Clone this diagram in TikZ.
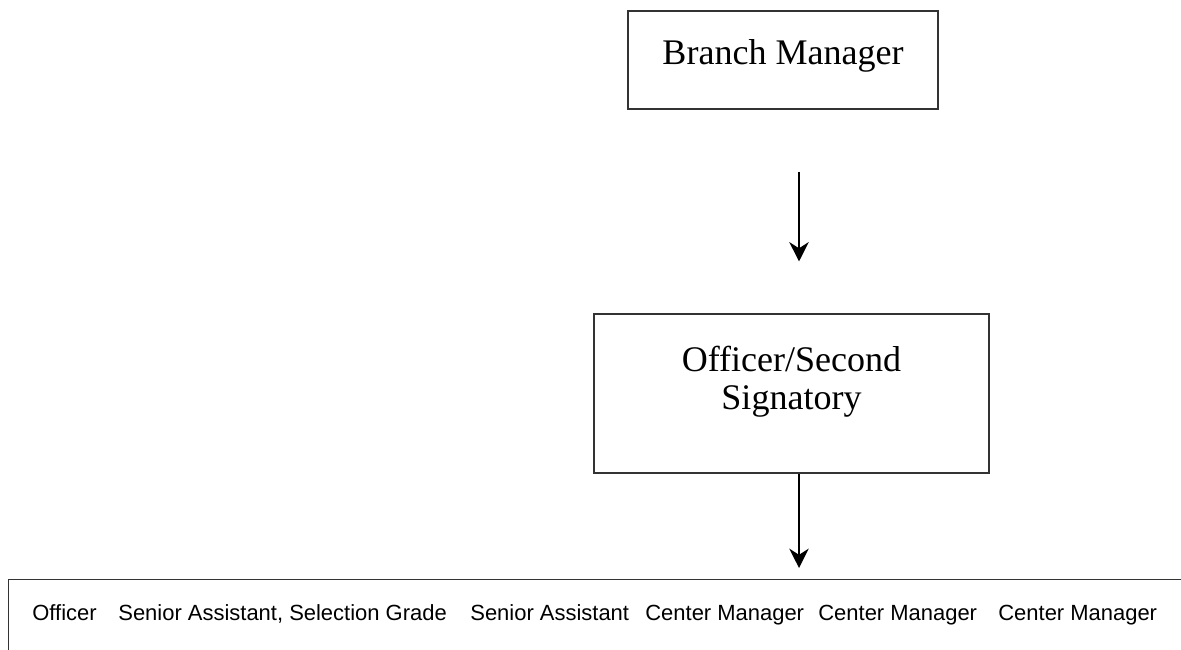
\documentclass[tikz,border=0pt]{standalone}
\usepackage{fontspec}
\setmainfont{Liberation Serif}
\setsansfont{Liberation Sans}
\usetikzlibrary{positioning, arrows, arrows.meta}

\tikzset{
  orgbox/.style={draw=black!80, line width=0.6pt, inner sep=0pt},
  boxtext/.style={font=\fontsize{20.5}{21.5}\selectfont, align=center},
  rolename/.style={anchor=base west, inner sep=0pt, font=\sffamily\fontsize{12.5}{14}\selectfont},
  reportarrow/.style={line width=1.1pt, -{Stealth[length=11pt,width=11pt,inset=3.5pt]}}
}

\begin{document}
\begin{tikzpicture}
  \useasboundingbox (0,0) rectangle (23.62,-13);
  \clip (0,0) rectangle (23.62,-13);

  % top of the chart
  \node[orgbox, minimum width=6.2cm, minimum height=1.96cm,
        label={[boxtext, yshift=0.08cm]center:Branch Manager}]
        (branch) at (15.66,-1.2) {};

  \node[orgbox, minimum width=7.9cm, minimum height=3.18cm,
        label={[boxtext, yshift=0.24cm]center:Officer/Second\\Signatory}]
        (officer) at (15.83,-7.87) {};

  % bottom row of staff
  \node[orgbox, anchor=north west, minimum width=23.9cm, minimum height=2cm]
        (staff) at (0.16,-11.58) {};
  \node[rolename] (officerrole) at (0.64,-12.4) {Officer};
  \node[rolename] (seniorsg) at (2.36,-12.4) {Senior Assistant, Selection Grade};
  \node[rolename] (senior) at (9.4,-12.4) {Senior Assistant};
  \node[rolename] (centera) at (12.9,-12.4) {Center Manager};
  \node[rolename] (centerb) at (16.36,-12.4) {Center Manager};
  \node[rolename] (centerc) at (19.96,-12.4) {Center Manager};

  % reporting lines
  \coordinate (upperfrom) at ([yshift=-1.24cm]branch.south -| 15.98,0);
  \coordinate (upperto) at ([yshift=1.04cm]officer.north -| 15.98,0);
  \coordinate (lowerfrom) at (officer.south -| 15.98,0);
  \coordinate (lowerto) at ([yshift=0.22cm]staff.north -| 15.98,0);
  \draw[reportarrow] (upperfrom) -- (upperto);
  \draw[reportarrow] (lowerfrom) -- (lowerto);
\end{tikzpicture}
\end{document}
